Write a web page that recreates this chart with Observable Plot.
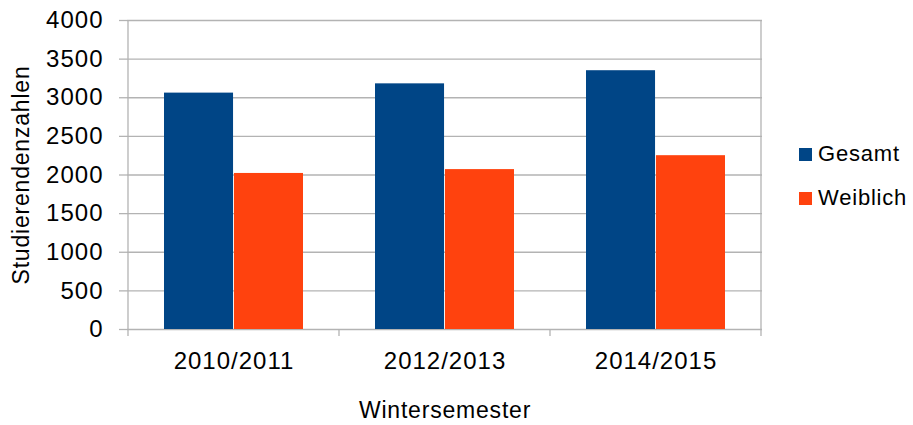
<!DOCTYPE html>
<html>
<head>
<meta charset="utf-8">
<script src="https://cdn.jsdelivr.net/npm/d3@7"></script>
<script src="https://cdn.jsdelivr.net/npm/@observablehq/plot@0.6"></script>
<style>
  html, body { margin: 0; padding: 0; background: #fff; }
  #wrap { position: relative; width: 913px; height: 425px; font-family: "Liberation Sans", Arial, sans-serif; }
  #wrap svg text { font-family: "Liberation Sans", Arial, sans-serif; fill: #000; }
  #legend { position: absolute; left: 799px; top: 132px; font-size: 22px; letter-spacing: 0.8px; color: #000; }
  #legend .item { display: flex; align-items: center; height: 44px; }
  #legend .sw { width: 13px; height: 13px; margin-right: 6px; }
</style>
</head>
<body>
<div id="wrap"></div>
<script>
const years = ["2010/2011", "2012/2013", "2014/2015"];
const series = ["Gesamt", "Weiblich"];
const gesamt = [3060, 3180, 3350];
const weiblich = [2020, 2070, 2250];
const yTicks = [0, 500, 1000, 1500, 2000, 2500, 3000, 3500, 4000];
const colors = ["#004586", "#ff420e"];
const xTitle = "Wintersemester";
const yTitle = "Studierendenzahlen";

const rows = [];
years.forEach((yr, i) => {
  rows.push({year: yr, series: series[0], value: gesamt[i]});
  rows.push({year: yr, series: series[1], value: weiblich[i]});
});

const W = 913, H = 425;
const mL = 127, mR = 151, mT = 20, mB = 96;
const padInner = 0.339;
const step = (W - mL - mR) / years.length;
const halfBar = step * (1 - padInner) / 2;
const grid = "#b3b3b3";

const plot = Plot.plot({
  width: W, height: H,
  marginLeft: mL, marginRight: mR, marginTop: mT, marginBottom: mB,
  style: {fontSize: "24px", fontFamily: "Liberation Sans, Arial, sans-serif", background: "#fff", overflow: "visible"},
  x: {domain: years, paddingInner: padInner, paddingOuter: padInner / 2},
  y: {domain: [0, 4000]},
  color: {domain: series, range: colors},
  marks: [
    Plot.ruleY(yTicks, {stroke: grid, strokeWidth: 1.3}),
    Plot.axisY({ticks: yTicks, tickFormat: d3.format("d"), tickSize: 8, tickPadding: 16, stroke: grid, strokeOpacity: 1, strokeWidth: 1.3, label: yTitle, labelAnchor: "center", labelOffset: 115, fontSize: 24}),
    Plot.axisX({tickSize: 0, tickPadding: 22, label: xTitle, labelAnchor: "center", labelOffset: 88, fontSize: 24}),
    Plot.barY(rows.filter(d => d.series === series[0]), {x: "year", y: "value", fill: "series", insetRight: halfBar}),
    Plot.barY(rows.filter(d => d.series === series[1]), {x: "year", y: "value", fill: "series", insetLeft: halfBar})
  ]
});

document.getElementById("wrap").appendChild(plot);

// axis lines and category boundary ticks drawn from the plot's own scales
const sx = plot.scale("x"), sy = plot.scale("y");
const svg = d3.select(plot);
const y0 = sy.apply(0), yTop = sy.apply(4000);
const bounds = years.map(yr => sx.apply(yr) - (sx.step - sx.bandwidth) / 2);
bounds.push(bounds[bounds.length - 1] + sx.step);
const g = svg.append("g").attr("stroke", grid).attr("stroke-width", 1.3);
bounds.forEach((bx, i) => {
  const full = i === 0 || i === bounds.length - 1;
  g.append("line").attr("x1", bx).attr("x2", bx)
    .attr("y1", full ? yTop : y0).attr("y2", y0 + 7);
});

// text styling
svg.selectAll("text").style("letter-spacing", "1px");
svg.selectAll("[aria-label='y-axis label'] text, [aria-label='x-axis label'] text")
  .style("font-size", "23px").style("letter-spacing", "0.8px");
// remove any arrow decoration from axis titles
svg.selectAll("[aria-label='y-axis label'] text").text(yTitle);
svg.selectAll("[aria-label='x-axis label'] text").text(xTitle);

// legend
const legend = d3.select("#wrap").append("div").attr("id", "legend");
series.forEach((s, i) => {
  const it = legend.append("div").attr("class", "item");
  it.append("div").attr("class", "sw").style("background", colors[i]);
  it.append("span").text(s);
});
</script>
</body>
</html>
